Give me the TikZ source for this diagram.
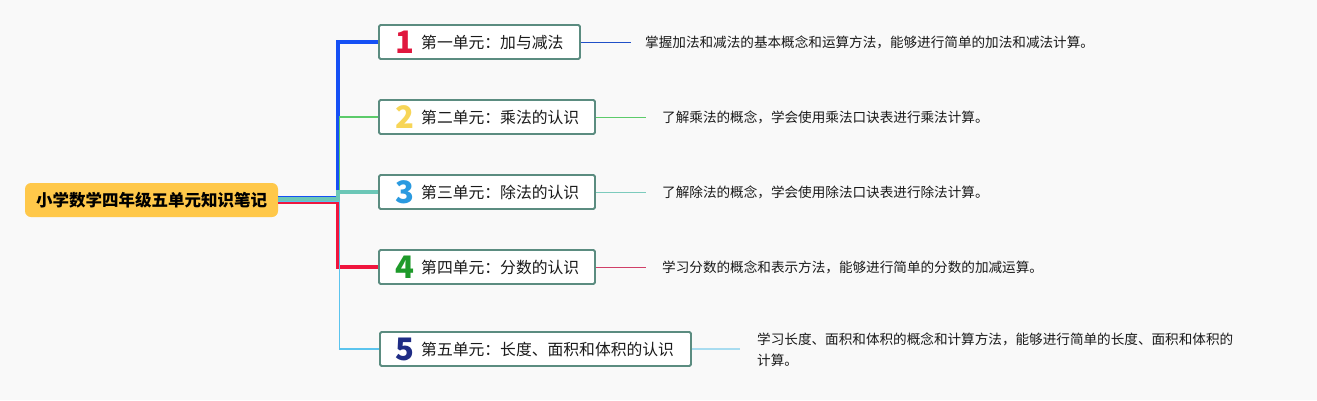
\documentclass[tikz,border=0pt]{standalone}
\usepackage{fontspec}
\setmainfont{Noto Sans CJK SC}
\newfontfamily\cjk{Noto Sans CJK SC}
\usetikzlibrary{calc}
\definecolor{bg}{HTML}{F9F9F9}
\definecolor{rootfill}{HTML}{FFC84A}
\definecolor{boxline}{HTML}{5B8C80}
\definecolor{cblue}{HTML}{1650F5}
\definecolor{cgreen}{HTML}{5CCB6A}
\definecolor{cteal}{HTML}{6CC7B7}
\definecolor{cred}{HTML}{F0163E}
\definecolor{clblue}{HTML}{5BC4EE}
\definecolor{dblue}{HTML}{2050C8}
\definecolor{dgreen}{HTML}{5CCB6A}
\definecolor{dteal}{HTML}{7CCBBD}
\definecolor{dred}{HTML}{D04068}
\definecolor{dlblue}{HTML}{A8DCF0}
\definecolor{n1}{HTML}{E0173E}
\definecolor{n2}{HTML}{F7D557}
\definecolor{n3}{HTML}{2A9AE0}
\definecolor{n4}{HTML}{1E9A2A}
\definecolor{n5}{HTML}{1F2C85}
\definecolor{txt}{HTML}{1A1A1A}
\begin{document}
\begin{tikzpicture}[x=1pt,y=-1pt,
  rootbox/.style={fill=rootfill,rounded corners=6pt,minimum width=253pt,minimum height=34pt,inner sep=0pt,
    font=\fontsize{16.5}{18}\selectfont\bfseries,text=black},
  unitbox/.style={draw=boxline,line width=1.8pt,fill=white,rounded corners=1.5pt,minimum height=34pt,inner sep=0pt},
  digit/.style={font=\fontsize{31}{31}\selectfont\bfseries,inner sep=0pt},
  label/.style={anchor=west,font=\fontsize{15.8}{17}\selectfont,text=txt,inner sep=0pt},
  desc/.style={anchor=west,font=\fontsize{13.6}{21}\selectfont,text=txt,inner sep=0pt,align=left},
  dline/.style={line width=1pt}
]
\fill[bg] (0,0) rectangle (1317,400);
\useasboundingbox (0,0) rectangle (1317,400);

\node[rootbox] (root) at (151.5,200) {小学数学四年级五单元知识笔记};

\node[unitbox,minimum width=201pt] (b1) at (479.5,42) {};
\node[unitbox,minimum width=216pt] (b2) at (487,117) {};
\node[unitbox,minimum width=216pt] (b3) at (487,192) {};
\node[unitbox,minimum width=216pt] (b4) at (487,267) {};
\node[unitbox,minimum width=311pt] (b5) at (535.5,349) {};

% connectors root -> boxes
\draw[cred,line width=4pt] ($(root.east)+(0,1.5)$) -| ($(b4.west)+(-40,0)$) -- (b4.west);
\draw[cblue,line width=4.5pt] ($(root.east)+(0,-1.5)$) -| ($(b1.west)+(-40,0)$) -- (b1.west);
\draw[cgreen,line width=1.6pt] ($(root.east)+(0,-1)$) -| ($(b2.west)+(-38.5,0)$) -- (b2.west);
\draw[cteal,line width=4pt] ($(root.east)+(0,-1)$) -| ($(b3.west)+(-40,0)$) -- (b3.west);
\draw[clblue,line width=1.6pt] ($(root.east)+(0,1.5)$) -| ($(b5.west)+(-39.5,0)$) -- (b5.west);

% box contents
\node[digit,text=n1] (d1) at (405,42) {1};
\node[label] (l1) at (421,42) {第一单元：加与减法};
\node[digit,text=n2] (d2) at (405,117) {2};
\node[label] (l2) at (421,117) {第二单元：乘法的认识};
\node[digit,text=n3] (d3) at (405,192) {3};
\node[label] (l3) at (421,192) {第三单元：除法的认识};
\node[digit,text=n4] (d4) at (405,267) {4};
\node[label] (l4) at (421,267) {第四单元：分数的认识};
\node[digit,text=n5] (d5) at (405,349) {5};
\node[label] (l5) at (421,349) {第五单元：长度、面积和体积的认识};

% descriptions
\node[desc] (t1) at (645,42) {掌握加法和减法的基本概念和运算方法，能够进行简单的加法和减法计算。};
\node[desc] (t2) at (662,117) {了解乘法的概念，学会使用乘法口诀表进行乘法计算。};
\node[desc] (t3) at (662,192) {了解除法的概念，学会使用除法口诀表进行除法计算。};
\node[desc] (t4) at (662,267) {学习分数的概念和表示方法，能够进行简单的分数的加减运算。};
\node[desc] (t5) at (757,350) {学习长度、面积和体积的概念和计算方法，能够进行简单的长度、面积和体积的\\计算。};

\draw[dline,dblue] (b1.east) -- ($(b1.east)+(50,0)$);
\draw[dline,dgreen] (b2.east) -- ($(b2.east)+(50,0)$);
\draw[dline,dteal] (b3.east) -- ($(b3.east)+(50,0)$);
\draw[dline,dred] (b4.east) -- ($(b4.east)+(50,0)$);
\draw[dline,dlblue,line width=1.5pt] (b5.east) -- ($(b5.east)+(48,0)$);
\end{tikzpicture}
\end{document}
